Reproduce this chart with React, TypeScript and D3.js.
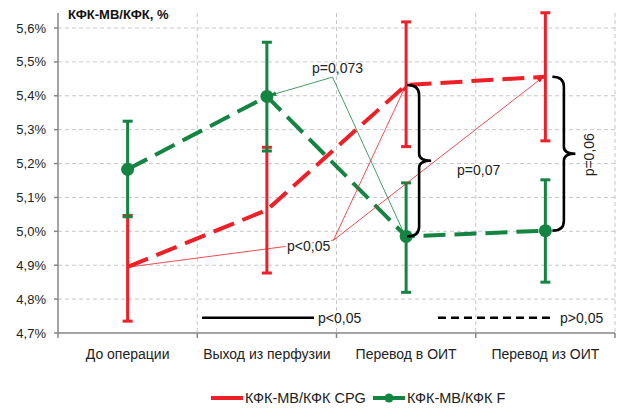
import React from "react";
import { scaleBand, scaleLinear, line } from "d3";

const categories = ["До операции", "Выход из перфузии", "Перевод в ОИТ", "Перевод из ОИТ"];
const cpgMean = [4.895, 5.063, 5.432, 5.456];
const cpgLow = [4.735, 4.877, 5.25, 5.267];
const cpgHigh = [5.047, 5.248, 5.618, 5.645];
const fMean = [5.183, 5.398, 4.985, 5.002];
const fLow = [5.043, 5.237, 4.82, 4.85];
const fHigh = [5.325, 5.558, 5.143, 5.152];
const yTicks = [4.7, 4.8, 4.9, 5.0, 5.1, 5.2, 5.3, 5.4, 5.5, 5.6];
const seriesNames = ["КФК-МВ/КФК CPG", "КФК-МВ/КФК F"];

const RED = "#ee2027";
const GREEN = "#138441";
const FONT = "'Liberation Sans', Arial, sans-serif";

const width = 620;
const height = 410;
const marginLeft = 58;
const marginRight = 5;
const marginTop = 28;
const plotBottom = 333;

const fmt = (v: number) => v.toFixed(1).replace(".", ",") + "%";

// curly brace opening to the right, from (x0,yT) to (x0,yB)
function brace(x0: number, yT: number, yB: number, w: number) {
  const xm = x0 + w * 0.5;
  const tip = x0 + w;
  const mid = (yT + yB) / 2;
  return `M${x0},${yT} Q${xm},${yT} ${xm},${yT + 10} L${xm},${mid - 7} Q${xm},${mid} ${tip},${mid} ` +
    `Q${xm},${mid} ${xm},${mid + 7} L${xm},${yB - 10} Q${xm},${yB} ${x0},${yB}`;
}

export default function App() {
  const x = scaleBand<string>().domain(categories).range([marginLeft, width - marginRight]).padding(0);
  const y = scaleLinear().domain([4.7, 5.6]).range([plotBottom, marginTop]);
  const cx = (i: number) => (x(categories[i]) as number) + x.bandwidth() / 2;
  const bandEdge = (i: number) => x(categories[i]) as number;

  const seriesLine = line<number>().x((_, i) => cx(i)).y(d => y(d));

  // annotation anchors, in data terms
  const gVertex: [number, number] = [bandEdge(2) - 4, y(5.455)];
  const rVertex: [number, number] = [bandEdge(2) - 3, y(4.974)];

  const errBars = (mean: number[], lo: number[], hi: number[], color: string) =>
    mean.map((_, i) => (
      <g key={i} stroke={color} strokeWidth={3}>
        <line x1={cx(i)} x2={cx(i)} y1={y(lo[i])} y2={y(hi[i])} />
        <line x1={cx(i) - 5} x2={cx(i) + 5} y1={y(lo[i])} y2={y(lo[i])} />
        <line x1={cx(i) - 5} x2={cx(i) + 5} y1={y(hi[i])} y2={y(hi[i])} />
      </g>
    ));

  const legY = y(4.745);

  return (
    <div style={{ position: "absolute", left: 0, top: 0 }}>
      <svg width={width} height={height} style={{ display: "block", fontFamily: FONT }}>
        <defs>
          <marker id="arrR" viewBox="0 0 10 10" refX="10" refY="5" markerWidth="8" markerHeight="8" orient="auto">
            <path d="M0,1 L10,5 L0,9 z" fill={RED} />
          </marker>
          <marker id="arrG" viewBox="0 0 10 10" refX="10" refY="5" markerWidth="8" markerHeight="8" orient="auto">
            <path d="M0,1 L10,5 L0,9 z" fill={GREEN} />
          </marker>
        </defs>
        <rect width={width} height={height} fill="#fff" />

        {/* grid */}
        <g stroke="#c8c8c8" strokeDasharray="4,3" strokeWidth={1}>
          {yTicks.slice(1).map(t => (
            <line key={t} x1={marginLeft} x2={width - marginRight} y1={y(t)} y2={y(t)} />
          ))}
          {categories.map((c, i) => (
            <line key={c} x1={bandEdge(i) + x.bandwidth()} x2={bandEdge(i) + x.bandwidth()} y1={13} y2={plotBottom} />
          ))}
        </g>

        {/* axes */}
        <g stroke="#868686" strokeWidth={1.5}>
          <line x1={marginLeft} x2={marginLeft} y1={13} y2={plotBottom} />
          <line x1={marginLeft} x2={width - marginRight} y1={plotBottom} y2={plotBottom} />
          {yTicks.map(t => (
            <line key={t} x1={marginLeft - 4} x2={marginLeft} y1={y(t)} y2={y(t)} />
          ))}
          {categories.map((c, i) => (
            <line key={c} x1={bandEdge(i)} x2={bandEdge(i)} y1={plotBottom} y2={plotBottom + 5} />
          ))}
          <line x1={width - marginRight} x2={width - marginRight} y1={plotBottom} y2={plotBottom + 5} />
        </g>
        <g fontSize={13} fill="#222" textAnchor="end">
          {yTicks.map(t => (
            <text key={t} x={46} y={y(t)} dy="0.35em">{fmt(t)}</text>
          ))}
        </g>
        <g fontSize={14} fill="#222" textAnchor="middle">
          {categories.map((c, i) => (
            <text key={c} x={cx(i)} y={359}>{c}</text>
          ))}
        </g>
        <text x={68} y={19} fontSize={13} fontWeight="bold" fill="#111">КФК-МВ/КФК, %</text>

        {/* p-value line legend */}
        <line x1={202} x2={314} y1={legY} y2={legY} stroke="#000" strokeWidth={2.5} />
        <text x={318} y={legY} dy="0.35em" fontSize={14} fill="#222">p&lt;0,05</text>
        <line x1={438} x2={553} y1={legY} y2={legY} stroke="#000" strokeWidth={2.5} strokeDasharray="8,5" />
        <text x={560} y={legY} dy="0.35em" fontSize={14} fill="#222">p&gt;0,05</text>

        {/* series lines */}
        <path d={seriesLine(cpgMean) || ""} fill="none" stroke={RED} strokeWidth={4} strokeDasharray="22,9" />
        <path d={seriesLine(fMean) || ""} fill="none" stroke={GREEN} strokeWidth={4} strokeDasharray="22,9" />

        {/* error bars */}
        {errBars(cpgMean, cpgLow, cpgHigh, RED)}
        {errBars(fMean, fLow, fHigh, GREEN)}
        {fMean.map((v, i) => (
          <circle key={i} cx={cx(i)} cy={y(v)} r={6.5} fill={GREEN} />
        ))}

        {/* annotation lines */}
        <g fill="none" stroke={GREEN} strokeWidth={0.8}>
          <line x1={gVertex[0]} y1={gVertex[1]} x2={cx(1) + 3} y2={y(fMean[1]) - 1} markerEnd="url(#arrG)" />
          <line x1={gVertex[0]} y1={gVertex[1]} x2={cx(2) - 3} y2={y(fMean[2]) - 5} />
        </g>
        <g fill="none" stroke={RED} strokeWidth={0.8}>
          <line x1={rVertex[0]} y1={rVertex[1]} x2={cx(0) + 2} y2={y(cpgMean[0])} />
          <line x1={rVertex[0]} y1={rVertex[1]} x2={cx(2)} y2={y(cpgMean[2])} markerEnd="url(#arrR)" />
          <line x1={rVertex[0]} y1={rVertex[1]} x2={cx(3) - 2} y2={y(cpgMean[3])} markerEnd="url(#arrR)" />
        </g>

        {/* braces */}
        <g fill="none" stroke="#000" strokeWidth={2.6}>
          <path d={brace(cx(2) + 1, y(cpgMean[2]), y(fMean[2]), 24)} />
          <path d={brace(cx(3) + 7, y(cpgMean[3]), y(fMean[3]), 23)} />
        </g>

        {/* p-value labels */}
        <g fontSize={14} fill="#222" stroke="#fff" strokeWidth={4} style={{ paintOrder: "stroke" }}>
          <text x={312} y={y(5.482)} dy="0.35em" stroke="none">p=0,073</text>
          <text x={287} y={y(4.955)} dy="0.35em">p&lt;0,05</text>
          <text x={457} y={y(5.18)} dy="0.35em">p=0,07</text>
          <text transform={`translate(589,${(y(cpgMean[3]) + y(fMean[3])) / 2 + 1}) rotate(-90)`} textAnchor="middle" dy="0.35em" stroke="none">p=0,06</text>
        </g>

        {/* series legend */}
        <line x1={211} x2={243} y1={398} y2={398} stroke={RED} strokeWidth={4} />
        <text x={245} y={398} dy="0.35em" fontSize={14.5} fill="#222">{seriesNames[0]}</text>
        <line x1={373} x2={405} y1={398} y2={398} stroke={GREEN} strokeWidth={4} />
        <circle cx={389} cy={398} r={4.5} fill={GREEN} />
        <text x={407} y={398} dy="0.35em" fontSize={14.5} fill="#222">{seriesNames[1]}</text>
      </svg>
    </div>
  );
}
